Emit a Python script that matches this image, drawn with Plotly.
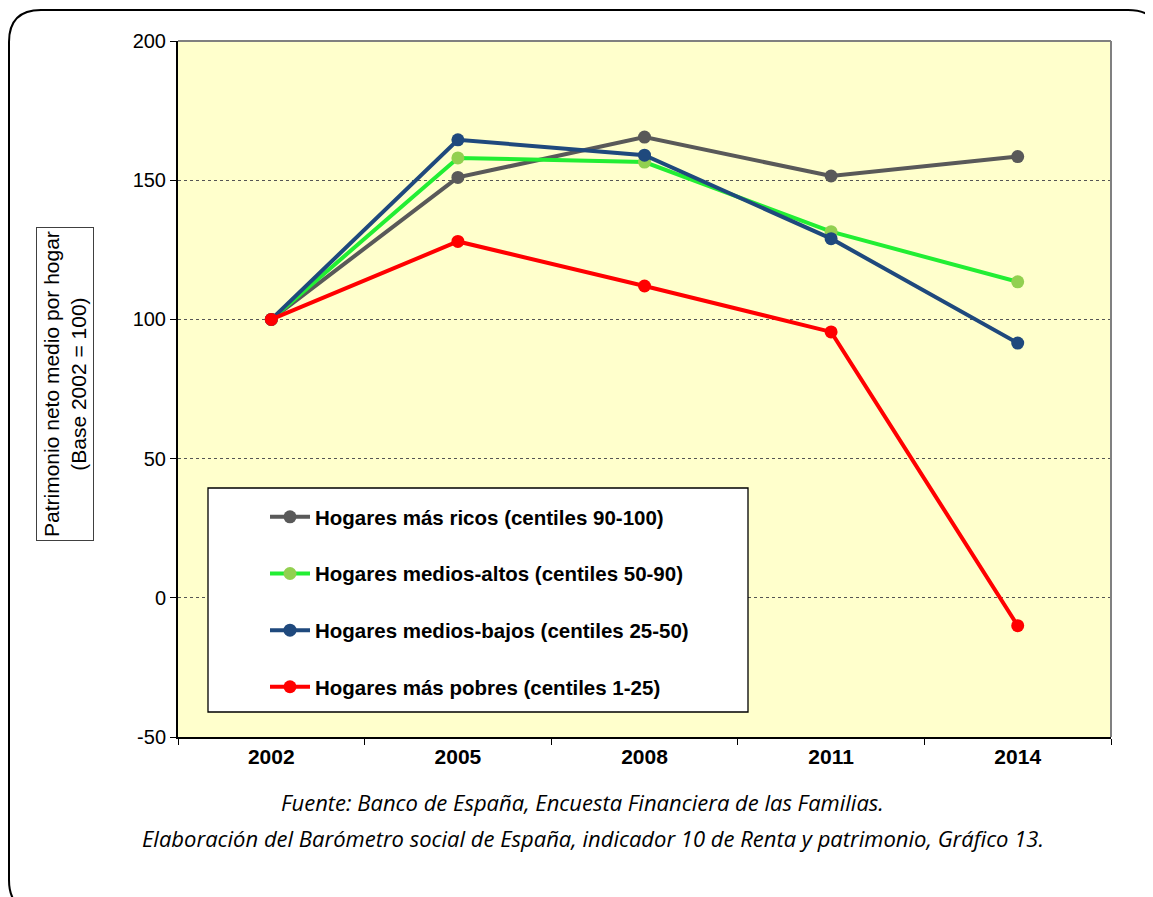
import plotly.graph_objects as go

# ---------------- data ----------------
years = ["2002", "2005", "2008", "2011", "2014"]
ricos = [100, 151, 165.5, 151.5, 158.5]
medios_altos = [100, 158, 156.5, 131.5, 113.5]
medios_bajos = [100, 164.5, 159, 129, 91.5]
pobres = [100, 128, 112, 95.5, -10]

series_names = [
    "Hogares más ricos (centiles 90-100)",
    "Hogares medios-altos (centiles 50-90)",
    "Hogares medios-bajos (centiles 25-50)",
    "Hogares más pobres (centiles 1-25)",
]
series_values = [ricos, medios_altos, medios_bajos, pobres]
line_colors = ["#595959", "#22EE33", "#1F497D", "#FF0000"]
marker_colors = ["#595959", "#92D050", "#1F497D", "#FF0000"]

y_tick_values = [-50, 0, 50, 100, 150, 200]
y_tick_labels = ["-50", "0", "50", "100", "150", "200"]

y_title = "Patrimonio neto medio por hogar<br>(Base 2002 = 100)"
caption1 = "Fuente: Banco de España, Encuesta Financiera de las Familias."
caption2 = "Elaboración del Barómetro social de España, indicador 10 de Renta y patrimonio, Gráfico 13."

# ---------------- layout geometry (screen pixels) ----------------
OFF = 8  # page body margin
W, H = 1153 - OFF, 897 - OFF
L, R, T, B = 178, 1111, 41, 737  # plot area in screen pixels


def px(x):
    return (x - L) / (R - L)


def py(y):
    return (B - y) / (B - T)


fig = go.Figure()
for i, (name, vals) in enumerate(zip(series_names, series_values)):
    fig.add_trace(go.Scatter(
        x=years, y=vals, name=name, mode="lines+markers",
        line=dict(color=line_colors[i], width=4),
        marker=dict(color=marker_colors[i], size=13),
        legendgroup=f"g{i}",
    ))

# outer rounded frame
x0, y0, x1, y1, r = 9, 10, 1160, 912, 32
path = (
    f"M {px(x0)},{py(y0 + r)} "
    f"Q {px(x0)},{py(y0)} {px(x0 + r)},{py(y0)} "
    f"L {px(x1 - r)},{py(y0)} "
    f"Q {px(x1)},{py(y0)} {px(x1)},{py(y0 + r)} "
    f"L {px(x1)},{py(y1 - r)} "
    f"Q {px(x1)},{py(y1)} {px(x1 - r)},{py(y1)} "
    f"L {px(x0 + r)},{py(y1)} "
    f"Q {px(x0)},{py(y1)} {px(x0)},{py(y1 - r)} Z"
)
shapes = [
    dict(type="path", xref="paper", yref="paper", path=path,
         line=dict(color="#000000", width=2), layer="below"),
    # top and right plot border (gray)
    dict(type="line", xref="paper", yref="paper", x0=0, x1=1, y0=1, y1=1,
         line=dict(color="#808080", width=2), layer="above"),
    dict(type="line", xref="paper", yref="paper", x0=1, x1=1, y0=0, y1=1,
         line=dict(color="#808080", width=2), layer="above"),
    # legend box
    dict(type="rect", xref="paper", yref="paper",
         x0=px(208), x1=px(748), y0=py(712), y1=py(488),
         fillcolor="#FFFFFF", line=dict(color="#000000", width=1.3), layer="above"),
]

annotations = [
    dict(text=y_title, xref="paper", yref="paper", x=px(65), y=py(384),
         xanchor="center", yanchor="middle",
         showarrow=False, textangle=-90,
         font=dict(family="Liberation Sans, Arial", size=21, color="#000"),
         bordercolor="#404040", borderwidth=1, borderpad=3, bgcolor="#FFFFFF"),
    dict(text=caption1, xref="paper", yref="paper", x=px(582), y=py(802),
         showarrow=False, xanchor="center", yanchor="middle",
         font=dict(family="Open Sans", size=22, color="#000", style="italic")),
    dict(text=caption2, xref="paper", yref="paper", x=px(593), y=py(838),
         showarrow=False, xanchor="center", yanchor="middle",
         font=dict(family="Open Sans", size=22, color="#000", style="italic")),
]

fig.update_layout(
    width=W, height=H,
    margin=dict(l=L - OFF, r=W - (R - OFF), t=T - OFF, b=H - (B - OFF), pad=0),
    paper_bgcolor="#FFFFFF",
    plot_bgcolor="#FFFFCC",
    font=dict(family="Liberation Sans, Arial", color="#000"),
    shapes=shapes,
    annotations=annotations,
    showlegend=True,
    legend=dict(
        x=px(265), y=py(497), xanchor="left", yanchor="top",
        bgcolor="rgba(0,0,0,0)", borderwidth=0,
        font=dict(family="Liberation Sans, Arial", size=20.5, color="#000", weight="bold"),
        tracegroupgap=27, traceorder="grouped", itemwidth=40,
    ),
    xaxis=dict(
        type="category", categoryorder="array", categoryarray=years,
        range=[-0.5, 4.5],
        showgrid=False, zeroline=False,
        showline=True, linecolor="#000", linewidth=2,
        ticks="outside", tickson="boundaries", ticklen=6, tickcolor="#000", tickwidth=1,
        tickfont=dict(family="Liberation Sans, Arial", size=21, weight="bold"),
    ),
    yaxis=dict(
        range=[-50, 200], tickmode="array", tickvals=y_tick_values, ticktext=y_tick_labels,
        showgrid=True, gridcolor="#555555", gridwidth=1, griddash="dot",
        zeroline=False,
        showline=True, linecolor="#000", linewidth=2,
        ticks="outside", ticklen=6, tickcolor="#000", tickwidth=1,
        tickfont=dict(family="Liberation Sans, Arial", size=20),
    ),
)

fig.write_html("out.html")
